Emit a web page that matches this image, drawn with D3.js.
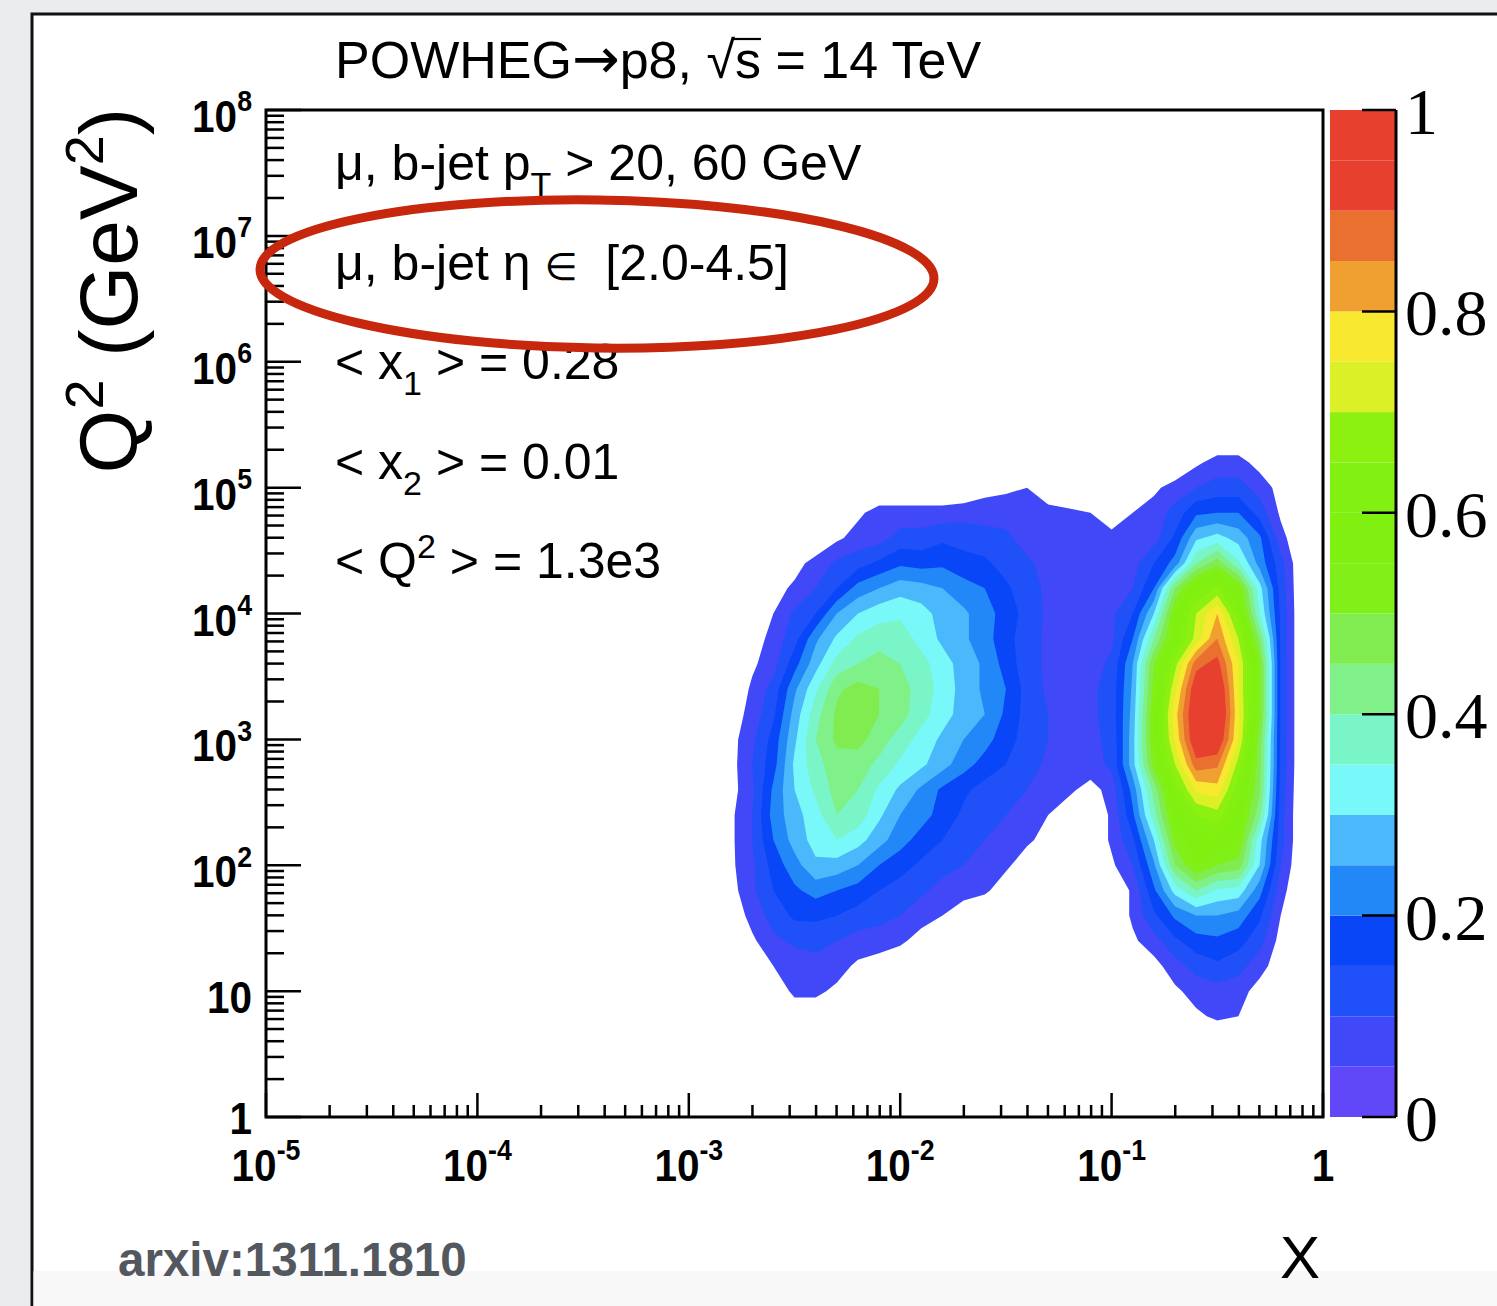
<!DOCTYPE html>
<html>
<head>
<meta charset="utf-8">
<script src="https://cdn.jsdelivr.net/npm/d3@7"></script>
<style>
  html, body { margin: 0; padding: 0; background: #ebecee; }
  svg { display: block; }
  text { font-family: "Liberation Sans", Arial, Helvetica, sans-serif; fill: #000; }
</style>
</head>
<body>
<div id="chart"></div>
<script>
// ---- data ----
// bin centres of the density grid (log10 x, log10 Q2)
var logX = [-3.0, -2.9, -2.8, -2.7, -2.6, -2.5, -2.4, -2.3, -2.2, -2.1, -2.0, -1.9, -1.8, -1.7, -1.6,
            -1.5, -1.4, -1.3, -1.2, -1.1, -1.0, -0.9, -0.8, -0.7, -0.6, -0.5, -0.4, -0.3, -0.2, -0.1, 0.0];
var logQ2 = [5.8, 5.6, 5.4, 5.2, 5.0, 4.8, 4.6, 4.4, 4.2, 4.0, 3.8, 3.6, 3.4, 3.2, 3.0,
             2.8, 2.6, 2.4, 2.2, 2.0, 1.8, 1.6, 1.4, 1.2, 1.0, 0.8, 0.6, 0.4];
// normalised density in percent, one row per logQ2 value, one column per logX value
var density = [
  [0,0,0,0,0, 0,0,0,0,0, 0,0,0,0,0, 0,0,0,0,0, 0,0,0,0,0, 0,0,0,0,0, 0],
  [0,0,0,0,0, 0,0,0,0,0, 0,0,0,0,0, 0,0,0,0,0, 0,0,0,0,0, 0,0,0,0,0, 0],
  [0,0,0,0,0, 0,0,0,0,0, 0,0,0,0,0, 0,0,0,0,0, 0,0,0,0,0, 0,0,0,0,0, 0],
  [0,0,0,0,0, 0,0,0,0,0, 0,0,0,0,0, 0,0,0,0,0, 0,0,0,0,4, 7,7,3,0,0, 0],
  [0,0,0,0,0, 0,0,0,0,0, 0,0,0,0,3, 4,5,3,0,0, 0,0,4,7,10, 12,12,8,3,0, 0],
  [0,0,0,0,0, 0,0,0,4,7, 7,7,7,8,8, 8,7,6,6,5, 3,5,7,12,19, 20,20,13,4,0, 0],
  [0,0,0,0,0, 0,0,4,7,8, 12,12,14,13,12, 11,8,7,7,7, 6,7,8,16,29, 32,28,21,7,0, 0],
  [0,0,0,0,0, 3,7,11,13,16, 19,18,19,17,16, 13,11,8,7,7, 7,8,15,22,40, 48,36,23,12,0, 0],
  [0,0,0,0,3, 6,10,15,22,25, 28,27,25,22,20, 16,12,9,7,8, 8,10,20,45,60, 66,55,32,13,0, 0],
  [0,0,0,0,5, 11,15,25,30,33, 34,32,28,26,22, 18,13,9,8,8, 9,15,30,55,70, 80,62,35,14,0, 0],
  [0,0,0,2,7, 13,24,31,36,38, 38,33,29,26,22, 17,12,9,7,8, 9,20,40,58,72, 85,70,45,14,0, 0],
  [0,0,0,4,8, 18,28,37,40,42, 40,37,32,28,24, 18,12,9,7,8, 11,25,50,68,88, 92,75,52,14,0, 0],
  [0,0,0,6,12, 24,34,44,47,45, 42,38,33,28,24, 20,13,9,8,9, 12,26,52,74,95, 98,75,52,14,0, 0],
  [0,0,2,7,14, 27,38,46,48,45, 42,37,32,28,25, 19,13,10,8,9, 12,27,55,78,97, 100,76,52,14,0, 0],
  [0,0,3,9,17, 29,40,46,47,42, 38,33,29,25,22, 17,13,10,8,9, 11,28,55,76,96, 96,75,48,14,0, 0],
  [0,0,3,10,18, 31,38,43,42,39, 34,31,27,22,18, 15,12,9,8,8, 11,28,52,70,88, 86,68,47,14,0, 0],
  [0,0,3,9,21, 30,36,42,40,34, 29,24,19,16,13, 12,10,8,6,3, 7,22,42,62,76, 78,62,46,13,0, 0],
  [0,0,4,10,22, 28,33,40,38,31, 25,22,18,14,12, 10,8,5,2,0, 6,19,38,57,65, 68,58,42,12,0, 0],
  [0,0,4,10,20, 27,32,35,32,27, 22,18,15,12,10, 8,6,3,0,0, 6,14,30,52,58, 60,55,32,12,0, 0],
  [0,0,4,9,17, 23,29,28,25,20, 17,14,12,10,8, 6,2,0,0,0, 4,10,24,45,55, 50,48,30,10,0, 0],
  [0,0,3,9,15, 19,22,20,18,15, 13,11,8,7,6, 2,0,0,0,0, 0,6,19,32,40, 34,33,22,7,0, 0],
  [0,0,1,7,12, 16,16,15,13,12, 10,7,5,2,0, 0,0,0,0,0, 0,6,14,21,25, 25,23,16,5,0, 0],
  [0,0,0,4,9, 11,12,10,8,7, 6,3,1,0,0, 0,0,0,0,0, 0,4,8,14,18, 19,17,12,3,0, 0],
  [0,0,0,0,5, 7,8,7,4,3, 1,0,0,0,0, 0,0,0,0,0, 0,0,3,8,12, 14,12,7,2,0, 0],
  [0,0,0,0,2, 6,6,4,1,0, 0,0,0,0,0, 0,0,0,0,0, 0,0,0,4,7, 8,7,3,0,0, 0],
  [0,0,0,0,0, 2,2,0,0,0, 0,0,0,0,0, 0,0,0,0,0, 0,0,0,0,4, 6,5,0,0,0, 0],
  [0,0,0,0,0, 0,0,0,0,0, 0,0,0,0,0, 0,0,0,0,0, 0,0,0,0,0, 0,0,0,0,0, 0],
  [0,0,0,0,0, 0,0,0,0,0, 0,0,0,0,0, 0,0,0,0,0, 0,0,0,0,0, 0,0,0,0,0, 0]
];
// contour level edges and the colour of each band
var levels = [0, 0.05, 0.1, 0.15, 0.2, 0.25, 0.3, 0.35, 0.4, 0.45, 0.5,
              0.55, 0.6, 0.65, 0.7, 0.75, 0.8, 0.85, 0.9, 0.95, 1.0];
var levelColors = ["#6048f8", "#4048f8", "#2050f8", "#0846f8", "#2288f8", "#4ab8fa", "#78f8f8",
                   "#7af5c8", "#80f088", "#80ec50", "#80f018", "#80f010", "#82f010", "#8cf010",
                   "#dcf028", "#f8e830", "#f0a030", "#ea7030", "#e8402f", "#e8402f"];

var xTicksMajor = [1e-5, 1e-4, 1e-3, 1e-2, 1e-1, 1];
var xTickLabels = [["10", "-5"], ["10", "-4"], ["10", "-3"], ["10", "-2"], ["10", "-1"], ["1", ""]];
var yTicksMajor = [1, 10, 1e2, 1e3, 1e4, 1e5, 1e6, 1e7, 1e8];
var yTickLabels = [["1", ""], ["10", ""], ["10", "2"], ["10", "3"], ["10", "4"], ["10", "5"],
                   ["10", "6"], ["10", "7"], ["10", "8"]];
var zTicks = [0, 0.2, 0.4, 0.6, 0.8, 1];
var zTickLabels = ["0", "0.2", "0.4", "0.6", "0.8", "1"];

// title pieces: [text, style]
var titleParts = [["POWHEG", ""], ["\u2192", "arrow"], ["p8, \u221As = 14 TeV", ""]];
var infoLines = [
  [["\u03BC, b-jet p", ""], ["T", "sub"], [" > 20, 60 GeV", ""]],
  [["\u03BC, b-jet \u03B7 ", ""], ["\u2208", "small"], ["  [2.0-4.5]", ""]],
  [["< x", ""], ["1", "sub"], [" > = 0.28", ""]],
  [["< x", ""], ["2", "sub"], [" > = 0.01", ""]],
  [["< Q", ""], ["2", "sup"], [" > = 1.3e3", ""]]
];
var yTitle = [["Q", ""], ["2", "sup"], [" (GeV", ""], ["2", "sup"], [")", ""]];
var sourceText = "arxiv:1311.1810";

// ---- layout ----
var W = 1497, H = 1306;
var frame = {left: 266, right: 1323, top: 110, bottom: 1117};
var bar = {left: 1330, right: 1396};

var svg = d3.select("#chart").append("svg").attr("width", W).attr("height", H);

// slide background
svg.append("rect").attr("width", W).attr("height", H).attr("fill", "#ebecee");
svg.append("rect").attr("x", 32).attr("y", 14).attr("width", W).attr("height", H)
  .attr("fill", "#fff").attr("stroke", "#111").attr("stroke-width", 3);
svg.append("rect").attr("x", 33.5).attr("y", 1271).attr("width", W).attr("height", 40)
  .attr("fill", "#f8f8f8");

var x = d3.scaleLog().domain([1e-5, 1]).range([frame.left, frame.right]);
var y = d3.scaleLog().domain([1, 1e8]).range([frame.bottom, frame.top]);
var z = d3.scaleLinear().domain([0, 1]).range([frame.bottom, frame.top]);

// ---- filled contours ----
var nx = logX.length, ny = logQ2.length;
var values = [];
density.forEach(function(row) { row.forEach(function(v) { values.push(v / 100); }); });

var contours = d3.contours().size([nx, ny]).thresholds(levels.slice(1, levels.length - 1))(values);

var dLX = logX[1] - logX[0], dLQ = logQ2[1] - logQ2[0];
var proj = d3.geoTransform({
  point: function(gx, gy) {
    var lx = logX[0] + (gx - 0.5) * dLX;
    var lq = logQ2[0] + (gy - 0.5) * dLQ;
    this.stream.point(x(Math.pow(10, lx)), y(Math.pow(10, lq)));
  }
});
var path = d3.geoPath(proj);

svg.append("g").selectAll("path")
  .data(contours)
  .join("path")
  .attr("d", path)
  .attr("fill", function(d, i) { return levelColors[i + 1]; });

// ---- frame and ticks ----
svg.append("rect")
  .attr("x", frame.left).attr("y", frame.top)
  .attr("width", frame.right - frame.left).attr("height", frame.bottom - frame.top)
  .attr("fill", "none").attr("stroke", "#000").attr("stroke-width", 3);

function isMajor(v) { return Math.abs(Math.log10(v) - Math.round(Math.log10(v))) < 1e-9; }

var ticks = svg.append("g").attr("stroke", "#000").attr("stroke-width", 2.5);
y.ticks().forEach(function(v) {
  var len = isMajor(v) ? 35 : 18;
  ticks.append("line").attr("x1", frame.left).attr("x2", frame.left + len)
    .attr("y1", y(v)).attr("y2", y(v));
});
x.ticks().forEach(function(v) {
  var len = isMajor(v) ? 24 : 12;
  ticks.append("line").attr("y1", frame.bottom).attr("y2", frame.bottom - len)
    .attr("x1", x(v)).attr("x2", x(v));
});

// power-of-ten labels
function powLabel(g, base, exp, size) {
  var t = g.append("text").attr("font-weight", "bold").attr("font-size", size);
  t.append("tspan").text(base);
  if (exp) t.append("tspan").attr("dy", -0.46 * size).attr("font-size", size * 0.66).text(exp);
  return t;
}
yTicksMajor.forEach(function(v, i) {
  var dy = v === 1 ? 17 : 22;
  var g = svg.append("g").attr("transform", "translate(252," + (y(v) + dy) + ") scale(0.9,1)");
  powLabel(g, yTickLabels[i][0], yTickLabels[i][1], 45).attr("text-anchor", "end");
});
xTicksMajor.forEach(function(v, i) {
  var g = svg.append("g").attr("transform", "translate(" + x(v) + ",1181) scale(0.9,1)");
  powLabel(g, xTickLabels[i][0], xTickLabels[i][1], 45).attr("text-anchor", "middle");
});

// ---- colour bar ----
var barG = svg.append("g");
barG.selectAll("rect")
  .data(d3.range(levels.length - 1))
  .join("rect")
  .attr("x", bar.left).attr("width", bar.right - bar.left)
  .attr("y", function(k) { return z(levels[k + 1]); })
  .attr("height", function(k) { return z(levels[k]) - z(levels[k + 1]); })
  .attr("fill", function(k) { return levelColors[k]; });
barG.append("line").attr("x1", bar.right).attr("x2", bar.right)
  .attr("y1", z(0)).attr("y2", z(1)).attr("stroke", "#000").attr("stroke-width", 3);
zTicks.forEach(function(v, i) {
  barG.append("line").attr("x1", bar.right - 34).attr("x2", bar.right)
    .attr("y1", z(v)).attr("y2", z(v)).attr("stroke", "#000").attr("stroke-width", 2.5);
  barG.append("text").attr("x", bar.right + 9).attr("y", z(v) + 24)
    .style("font-family", "'Liberation Serif', 'Times New Roman', serif")
    .attr("font-size", 66).text(zTickLabels[i]);
});

// ---- texts ----
function richText(t, parts, subSize, subDy, supDy) {
  var shift = 0;
  parts.forEach(function(p) {
    var target = p[1] === "sub" ? subDy : p[1] === "sup" ? supDy : 0;
    var ts = t.append("tspan").text(p[0]).attr("dy", target - shift);
    if (p[1] === "sub" || p[1] === "sup") ts.attr("font-size", subSize);
    if (p[1] === "small") ts.style("font-family", "'DejaVu Sans', sans-serif").attr("font-size", 38);
    shift = target;
  });
  return t;
}

var title = svg.append("text").attr("x", 335).attr("y", 78).attr("font-size", 52)
  .style("white-space", "pre");
titleParts.forEach(function(p) {
  var ts = title.append("tspan").text(p[0]);
  if (p[1] === "arrow") ts.style("font-family", "'DejaVu Sans', sans-serif").attr("font-size", 57);
});
// radical bar over the s
var tn = title.node(), full = titleParts.map(function(p) { return p[0]; }).join("");
var iRoot = full.indexOf("\u221A");
var x0 = tn.getEndPositionOfChar(iRoot).x - 2, x1 = tn.getEndPositionOfChar(iRoot + 1).x;
svg.append("line").attr("x1", x0).attr("x2", x1).attr("y1", 39).attr("y2", 39)
  .attr("stroke", "#000").attr("stroke-width", 2.2);

infoLines.forEach(function(parts, i) {
  var t = svg.append("text").attr("x", 335).attr("y", 180 + i * 99.5).attr("font-size", 50)
    .style("white-space", "pre");
  richText(t, parts, 34, 16, -20);
});

var yt = svg.append("text").attr("transform", "translate(137,108) rotate(-90)")
  .attr("text-anchor", "end").attr("font-size", 82);
richText(yt, yTitle, 54, 0, -34);

svg.append("text").attr("x", 1320).attr("y", 1278).attr("text-anchor", "end")
  .attr("font-size", 60).text("X");

svg.append("text").attr("x", 118).attr("y", 1276).attr("font-size", 47.5)
  .attr("font-weight", "bold").style("fill", "#53585f").text(sourceText);

// highlight ellipse
svg.append("ellipse").attr("cx", 597).attr("cy", 274).attr("rx", 337).attr("ry", 74)
  .attr("transform", "rotate(0.8,597,274)")
  .attr("fill", "none").attr("stroke", "#c6270d").attr("stroke-width", 9);
</script>
</body>
</html>
